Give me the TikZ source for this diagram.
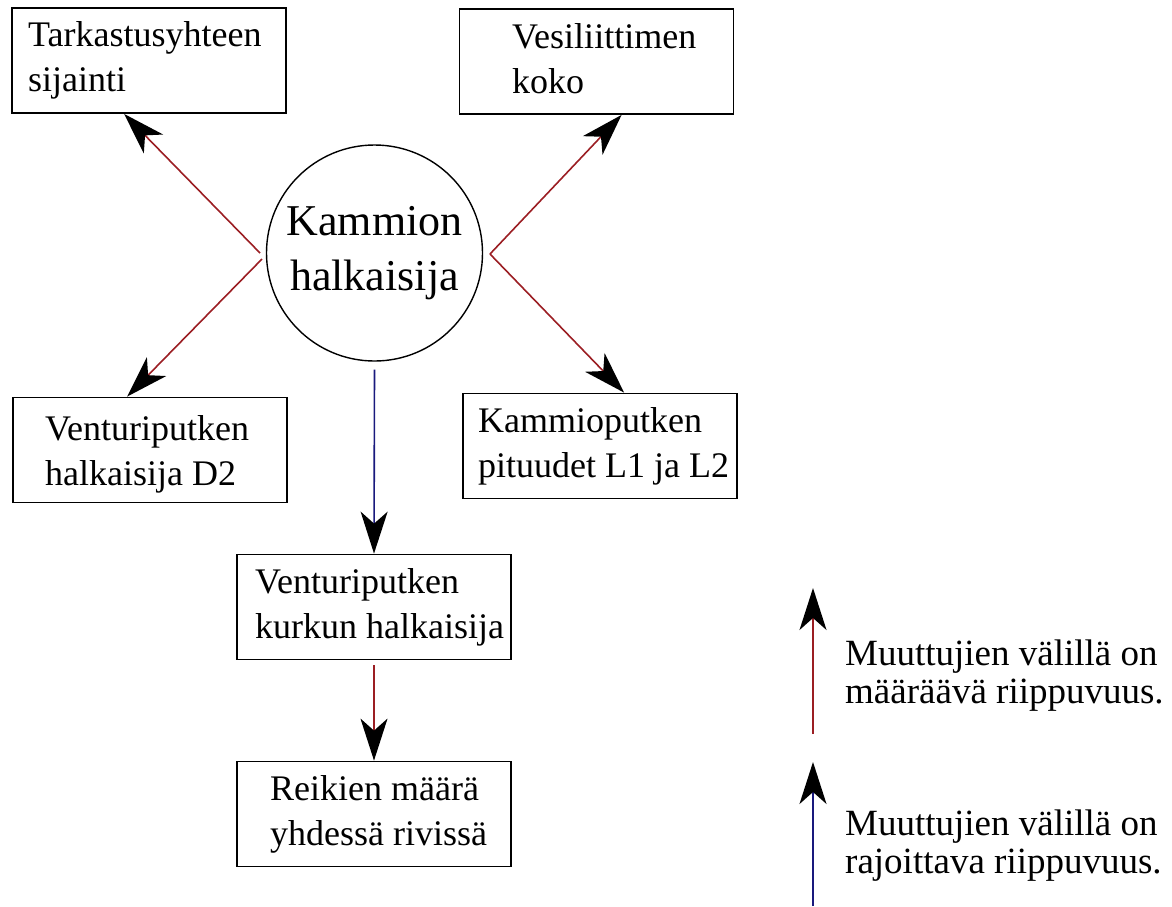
\documentclass[tikz,border=0pt]{standalone}
\usepackage{fontspec}
\setmainfont{Liberation Serif}
\usetikzlibrary{arrows.meta,calc}
\definecolor{depred}{RGB}{155,30,35}
\definecolor{limblue}{RGB}{25,25,125}
\begin{document}
\begin{tikzpicture}[x=1pt,y=-1pt,
  boxnode/.style={draw, line width=1.8pt, minimum width=274pt, minimum height=105pt, inner sep=0pt},
  lbl/.style={anchor=base west, align=left, inner sep=0pt, font=\fontsize{36}{45}\selectfont},
  leg/.style={anchor=base west, align=left, inner sep=0pt, font=\fontsize{37}{38}\selectfont},
  headstyle/.style={-{Stealth[length=42pt,width=27pt,inset=12pt,black]}},
  redarr/.style={headstyle, draw=depred, line width=1.6pt},
  bluearr/.style={headstyle, draw=limblue, line width=1.6pt}]
\useasboundingbox (0,0) rectangle (1172,906);

% boxes
\node[boxnode] (tl) at (149,60.5) {};
\node[boxnode] (tr) at (596.5,61.5) {};
\node[boxnode] (d2) at (150,450) {};
\node[boxnode] (kp) at (600,446) {};
\node[boxnode] (ku) at (374,607) {};
\node[boxnode] (re) at (374,814) {};

% labels (anchor = baseline of the last line)
\node[lbl] (tlt) at (28,91) {Tarkastusyhteen\\sijainti};
\node[lbl] (trt) at (512,93) {Vesiliittimen\\koko};
\node[lbl] (d2t) at (45,485) {Venturiputken\\halkaisija D2};
\node[lbl] (kpt) at (478,477) {Kammioputken\\pituudet L1 ja L2};
\node[lbl] (kut) at (255,638) {Venturiputken\\kurkun halkaisija};
\node[lbl] (ret) at (270,845) {Reikien määrä\\yhdessä rivissä};

% centre circle
\node[draw, circle, line width=1.4pt, minimum size=216pt, inner sep=0pt, align=center,
      font=\fontsize{44}{55}\selectfont] (c) at (374.5,253) {Kammion\\halkaisija};

% connector start points
\coordinate (vl1) at (260,253);
\coordinate (vl2) at (262,259);
\coordinate (vr) at (490,254);
\coordinate (cb) at ($(c.south)+(0,8)$);
\coordinate (kub) at ($(ku.south)+(0,5)$);

\draw[redarr] (vl1) -- ($(tl.south west)+(113,0)$);
\draw[redarr] (vl2) -- ($(d2.north west)+(115,0)$);
\draw[redarr] (vr) -- ($(tr.south west)+(163,0)$);
\draw[redarr] (vr) -- ($(kp.north west)+(162,0)$);
\draw[bluearr] (cb) -- (ku.north);
\draw[redarr] (kub) -- (re.north);

% legend
\coordinate (lr0) at (813,734);
\coordinate (lr1) at (813,588);
\coordinate (lb0) at (813,906);
\coordinate (lb1) at (813,762);
\draw[redarr] (lr0) -- (lr1);
\draw[bluearr] (lb0) -- (lb1);
\node[leg] (lgr) at (845,703) {Muuttujien välillä on\\määräävä riippuvuus.};
\node[leg] (lgb) at (845,873) {Muuttujien välillä on\\rajoittava riippuvuus.};
\end{tikzpicture}
\end{document}
